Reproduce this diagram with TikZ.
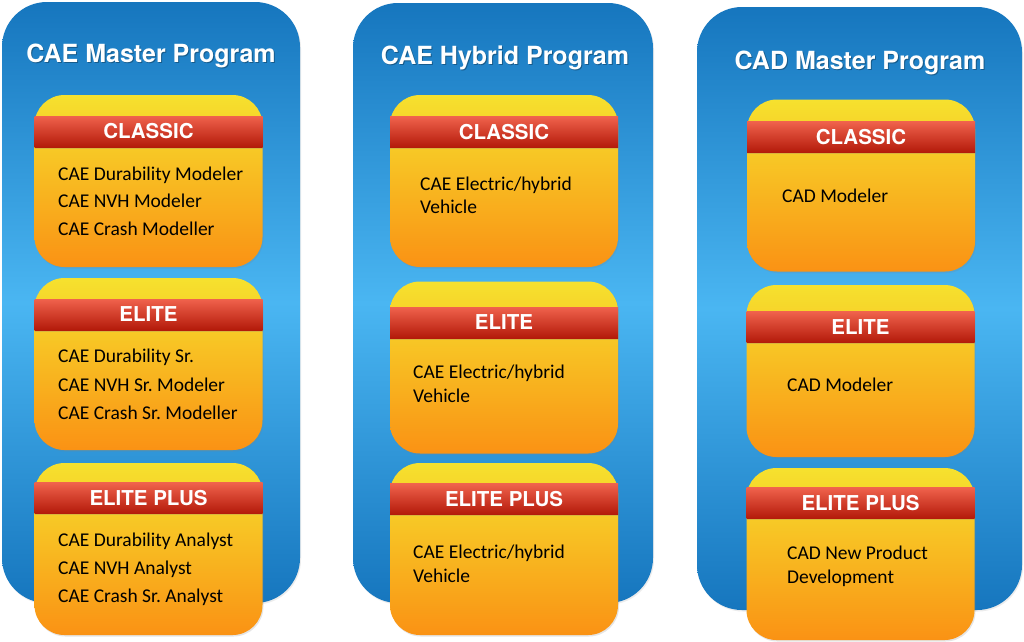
\documentclass[tikz,border=0pt]{standalone}
\usepackage{fontspec}
\setmainfont{Carlito}
\newfontfamily\headfont{TeX Gyre Heros}
\usetikzlibrary{shadows}
\frenchspacing
\definecolor{blueA}{HTML}{1676BE}
\definecolor{blueB}{HTML}{4AB6F2}
\definecolor{yelA}{HTML}{F6E12E}
\definecolor{yelB}{HTML}{FA9214}
\definecolor{redA}{HTML}{F0624C}
\definecolor{redB}{HTML}{B31A0A}
\tikzset{
  panel/.style={rounded corners=45pt, top color=blueA, bottom color=blueA, middle color=blueB, inner sep=0pt,
    drop shadow={opacity=0.15, shadow xshift=1pt, shadow yshift=-1.5pt}},
  tier/.style={rounded corners=30pt, top color=yelA, bottom color=yelB, inner sep=0pt,
    minimum width=228pt, minimum height=172pt,
    drop shadow={opacity=0.2, shadow xshift=1pt, shadow yshift=-1.5pt}},
  band/.style={top color=redA, bottom color=redB, minimum width=228pt, minimum height=31pt, inner sep=0pt,
    text=white, font=\headfont\bfseries\fontsize{20.5}{24}\selectfont,
    drop shadow={opacity=0.25, shadow xshift=0pt, shadow yshift=-1.5pt}},
  ptitle/.style={text=white, font=\headfont\bfseries\fontsize{25}{29}\selectfont, anchor=base, inner sep=0pt},
  pshadow/.style={ptitle, text=black, opacity=0.3},
  item/.style={anchor=base west, font=\frenchspacing\fontsize{19.5}{24}\selectfont, inner sep=0pt, text=black}
}
\begin{document}
\begin{tikzpicture}[x=1pt,y=-1pt]
\fill[white] (0,0) rectangle (1024,641);
\useasboundingbox (0,0) rectangle (1024,641);

% panels
\node[panel, minimum width=298pt, minimum height=601pt] (p1) at (151,302.5) {};
\node[panel, minimum width=300pt, minimum height=600pt] (p2) at (503,303) {};
\node[panel, minimum width=325pt, minimum height=603pt] (p3) at (859.5,308.5) {};

% titles
\node[pshadow] (t1s) at (152,63.5) {CAE Master Program};
\node[ptitle] (t1) at (151,62) {CAE Master Program};
\node[pshadow] (t2s) at (506,65.5) {CAE Hybrid Program};
\node[ptitle] (t2) at (505,64) {CAE Hybrid Program};
\node[pshadow] (t3s) at (861,70.5) {CAD Master Program};
\node[ptitle] (t3) at (860,69) {CAD Master Program};

% column 1
\node[tier] (c11) at (148.5,181) {};
\node[band] (b11) at (148.5,131.5) {CLASSIC};
\node[item] (i111) at (58,180) {CAE Durability Modeler};
\node[item] (i112) at (58,207) {CAE NVH Modeler};
\node[item] (i113) at (58,235) {CAE Crash Modeller};

\node[tier] (c12) at (148.5,364) {};
\node[band] (b12) at (148.5,314.5) {ELITE};
\node[item] (i121) at (58,362) {CAE Durability Sr.};
\node[item] (i122) at (58,391) {CAE NVH Sr. Modeler};
\node[item] (i123) at (58,419) {CAE Crash Sr. Modeller};

\node[tier] (c13) at (148.5,549) {};
\node[band] (b13) at (148.5,498) {ELITE PLUS};
\node[item] (i131) at (58,546) {CAE Durability Analyst};
\node[item] (i132) at (58,574) {CAE NVH Analyst};
\node[item] (i133) at (58,602) {CAE Crash Sr. Analyst};

% column 2
\node[tier] (c21) at (504,181) {};
\node[band] (b21) at (504,132) {CLASSIC};
\node[item] (i211) at (420,190) {CAE Electric/hybrid};
\node[item] (i212) at (420,213) {Vehicle};

\node[tier] (c22) at (504,367.5) {};
\node[band] (b22) at (504,322.5) {ELITE};
\node[item] (i221) at (413,378) {CAE Electric/hybrid};
\node[item] (i222) at (413,402) {Vehicle};

\node[tier] (c23) at (504,549) {};
\node[band] (b23) at (504,499) {ELITE PLUS};
\node[item] (i231) at (413,558) {CAE Electric/hybrid};
\node[item] (i232) at (413,582) {Vehicle};

% column 3
\node[tier] (c31) at (861,185.5) {};
\node[band] (b31) at (861,137) {CLASSIC};
\node[item] (i311) at (782,202) {CAD Modeler};

\node[tier] (c32) at (860.5,371) {};
\node[band] (b32) at (860.5,327) {ELITE};
\node[item] (i321) at (787,391) {CAD Modeler};

\node[tier] (c33) at (860.5,554) {};
\node[band] (b33) at (860.5,503) {ELITE PLUS};
\node[item] (i331) at (787,559) {CAD New Product};
\node[item] (i332) at (787,583) {Development};
\end{tikzpicture}
\end{document}
